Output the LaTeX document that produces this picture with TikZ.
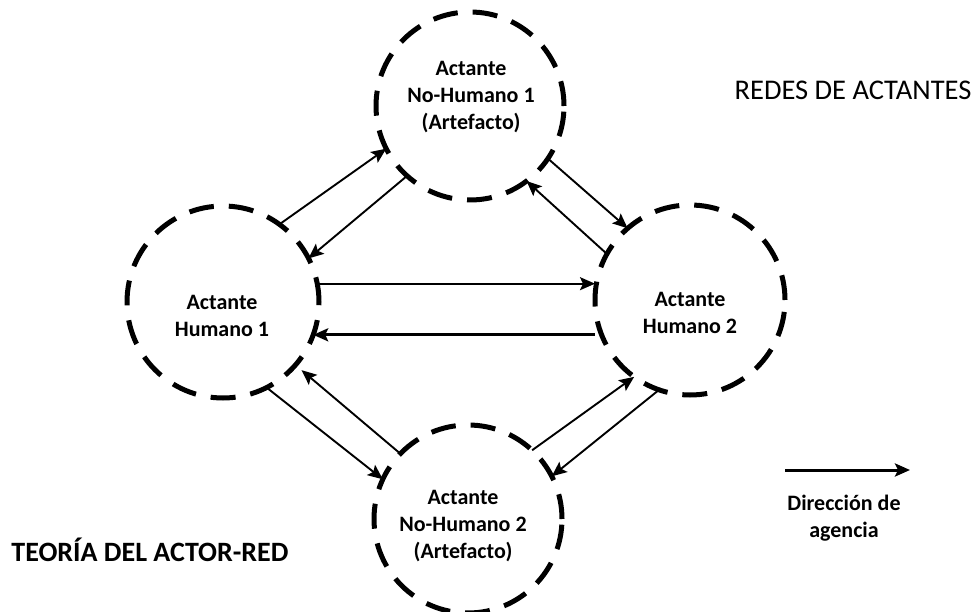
\documentclass[tikz,border=0pt]{standalone}
\usepackage{fontspec}
\setmainfont{Carlito}
\usetikzlibrary{arrows.meta}
\begin{document}
\begin{tikzpicture}[x=1pt,y=-1pt,
  actant/.style={circle, draw, line width=5pt, dash pattern=on 25pt off 15pt,
    minimum size=#1, inner sep=0pt, outer sep=0pt},
  tip/.style={-{Stealth[length=15pt,width=13pt,inset=3pt]}},
  flow/.style={tip, line width=1.9pt},
  caption/.style={align=center, font=\fontsize{22}{27}\selectfont\bfseries},
  heading/.style={font=\fontsize{28.5}{30}\selectfont}
]
\useasboundingbox (0,0) rectangle (980,612);

% actants
\node[actant=188pt] (a1) at (470,106) {};
\node[actant=192pt] (h1) at (223,302) {};
\node[actant=190pt] (h2) at (690,300) {};
\node[actant=188pt] (a2) at (468,519) {};

\node[caption] (t1) at (471,97) {Actante\\No-Humano 1\\(Artefacto)};
\node[caption] (t2) at (222,316) {Actante\\Humano 1};
\node[caption] (t3) at (690,313) {Actante\\Humano 2};
\node[caption] (t4) at (463,526) {Actante\\No-Humano 2\\(Artefacto)};

% directions of agency
\draw[flow] (h1.54) -- (a1.207);
\draw[flow] (a1.228) -- (h1.27);
\draw[flow] (a1.-34) -- (h2.131);
\draw[flow] (h2.151) -- (a1.-53);
\draw[flow] (h1.11) -- (h1.11 -| h2.west);
\draw[flow, line width=2.7pt] (h1.-20 -| h2.west) -- (h1.-20);
\draw[flow] (h1.-63) -- (a2.155);
\draw[flow, shorten >=8pt] (a2.136) -- (h1.-41);
\draw[flow] (a2.47) -- (h2.234);
\draw[flow] (h2.251) -- (a2.27);

% headings
\node[heading] (redes) at (853,90) {REDES DE ACTANTES};
\node[heading, font=\fontsize{28}{30}\selectfont\bfseries] (teoria) at (150,550) {TEORÍA DEL ACTOR-RED};

% legend
\coordinate (lg0) at (785,470);
\coordinate (lg1) at (910,470);
\draw[tip, line width=3pt] (lg0) -- (lg1);
\node[caption] (leg) at (844,518) {Dirección de\\agencia};
\end{tikzpicture}
\end{document}
